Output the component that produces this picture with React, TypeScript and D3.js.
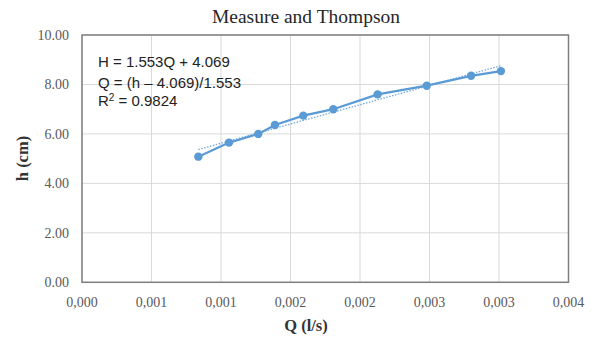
import React from "react";
import * as d3 from "d3";

const qValues = [0.000837, 0.001058, 0.001268, 0.001388, 0.001592, 0.001808, 0.002127, 0.00248, 0.002799, 0.003014];
const hValues = [5.08, 5.65, 6.0, 6.36, 6.74, 7.0, 7.6, 7.95, 8.35, 8.54];
const xTicks = [0, 0.0005, 0.001, 0.0015, 0.002, 0.0025, 0.003, 0.0035];
const yTicks = [0, 2, 4, 6, 8, 10];
const equationLines = ["H = 1.553Q + 4.069", "Q = (h \u2013 4.069)/1.553"];
const r2Value = "0.9824";
const titleText = "Measure and Thompson";
const xTitle = "Q (l/s)";
const yTitle = "h (cm)";

const W = 595;
const H = 338;
const left = 82;
const right = 568.5;
const top = 35;
const bottom = 282.3;

export default function App() {
  const x = d3.scaleLinear().domain([0, 0.0035]).range([left, right]);
  const y = d3.scaleLinear().domain([0, 10]).range([bottom, top]);
  const pts = qValues.map((q, i) => [q, hValues[i]] as [number, number]);
  const line = d3.line<[number, number]>().x((d) => x(d[0])).y((d) => y(d[1]));

  // least-squares trendline
  const mx = d3.mean(qValues)!;
  const my = d3.mean(hValues)!;
  let sxy = 0, sxx = 0;
  pts.forEach(([a, b]) => { sxy += (a - mx) * (b - my); sxx += (a - mx) * (a - mx); });
  const slope = sxy / sxx;
  const icpt = my - slope * mx;
  const x0 = d3.min(qValues)!;
  const x1 = d3.max(qValues)!;

  const fmtX = (v: number) => {
    const r = Math.round(v * 1000 + 1e-9) / 1000;
    return r.toFixed(3).replace(".", ",");
  };
  const serif = "'Liberation Serif', 'DejaVu Serif', serif";
  const sans = "'Liberation Sans', Arial, sans-serif";

  return (
    <svg width={W} height={H} style={{ position: "absolute", left: 0, top: 0, background: "#fff" }}>
      <rect x={0} y={0} width={W} height={H} fill="#fff" />
      <text x={306} y={23} textAnchor="middle" fontFamily={serif} fontSize={19.5} fill="#262626">{titleText}</text>
      {yTicks.map((t) => (
        <g key={"y" + t}>
          <line x1={left} x2={right} y1={y(t)} y2={y(t)} stroke="#d9d9d9" strokeWidth={1} />
          <text x={left - 13} y={y(t)} dy="0.35em" textAnchor="end" fontFamily={serif} fontSize={14} fill="#595959">{t.toFixed(2)}</text>
        </g>
      ))}
      {xTicks.map((t, i) => (
        <g key={"x" + i}>
          <line x1={x(t)} x2={x(t)} y1={top} y2={bottom} stroke="#d9d9d9" strokeWidth={1} />
          <text x={x(t)} y={bottom + 25} textAnchor="middle" fontFamily={serif} fontSize={14} fill="#595959">{fmtX(t)}</text>
        </g>
      ))}
      <rect x={left} y={top} width={right - left} height={bottom - top} fill="none" stroke="#7f7f7f" strokeWidth={1.5} />
      <line x1={x(x0)} y1={y(icpt + slope * x0)} x2={x(x1)} y2={y(icpt + slope * x1)} stroke="#5B9BD5" strokeWidth={1.3} strokeDasharray="1.5 1.5" opacity={0.85} />
      <path d={line(pts) || ""} fill="none" stroke="#5B9BD5" strokeWidth={2.2} />
      {pts.map((p, i) => (
        <circle key={i} cx={x(p[0])} cy={y(p[1])} r={4.2} fill="#5B9BD5" />
      ))}
      <g fontFamily={sans} fontSize={15} fill="#222">
        <text x={98} y={67}>{equationLines[0]}</text>
        <text x={98} y={88}>{equationLines[1]}</text>
        <text x={98} y={106}>R<tspan dy={-5} fontSize={10}>2</tspan><tspan dy={5}> = {r2Value}</tspan></text>
      </g>
      <text x={306} y={331} textAnchor="middle" fontFamily={serif} fontWeight="bold" fontSize={16.5} fill="#333">{xTitle}</text>
      <text transform={`translate(28, 158.5) rotate(-90)`} textAnchor="middle" fontFamily={serif} fontWeight="bold" fontSize={16.5} fill="#333">{yTitle}</text>
    </svg>
  );
}
